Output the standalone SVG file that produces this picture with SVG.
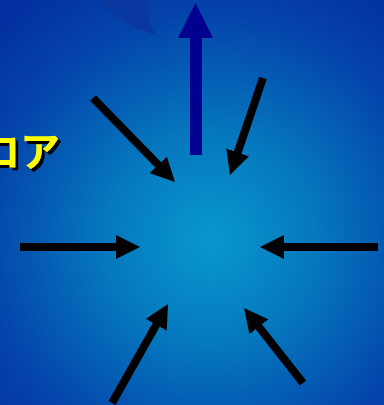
<svg xmlns="http://www.w3.org/2000/svg" width="384" height="405" viewBox="0 0 384 405">
<defs>
<radialGradient id="bg" cx="210" cy="240" r="300" gradientUnits="userSpaceOnUse">
<stop offset="0" stop-color="#0898cc"/>
<stop offset="0.35" stop-color="#0578be"/>
<stop offset="0.75" stop-color="#0444aa"/>
<stop offset="1" stop-color="#0330a0"/>
</radialGradient>
<filter id="sh" x="-10%" y="-10%" width="130%" height="130%">
<feOffset in="SourceAlpha" dx="3" dy="3" result="o"/>
<feMerge><feMergeNode in="o"/><feMergeNode in="SourceGraphic"/></feMerge>
</filter>
<marker id="ah" markerUnits="userSpaceOnUse" markerWidth="24" markerHeight="24" viewBox="0 0 24 24" refX="4" refY="12" orient="auto">
<path d="M0,0 L24,12 L0,24 Z" fill="#000"/>
</marker>
<style>
.arr{stroke:#000;stroke-width:8;fill:none;marker-end:url(#ah)}
.t{font-family:"Noto Sans CJK JP","Noto Sans",sans-serif;font-size:40px;font-weight:bold}
</style>
</defs>
<rect width="384" height="405" fill="url(#bg)"/>
<path d="M102,0 Q120,26 157,35 Q143,18 150,0 Z" fill="#0838a0"/>
<g id="label">
<text class="t" x="-20" y="166" fill="#ffff00" filter="url(#sh)">ロア</text>
</g>
<g id="up-arrow">
<polygon points="190,155 202,155 202,38 213,38 195.5,3 178,38 190,38" fill="#00008e"/>
</g>
<g id="connectors">
<line class="arr" x1="93" y1="98" x2="161" y2="167.7"/>
<line class="arr" x1="263" y1="78" x2="236.4" y2="156.1"/>
<line class="arr" x1="20" y1="247" x2="120" y2="247"/>
<line class="arr" x1="378" y1="247" x2="280" y2="247"/>
<line class="arr" x1="112" y1="403" x2="158.2" y2="321.4"/>
<line class="arr" x1="303" y1="383" x2="256.4" y2="323.7"/>
</g>
</svg>
